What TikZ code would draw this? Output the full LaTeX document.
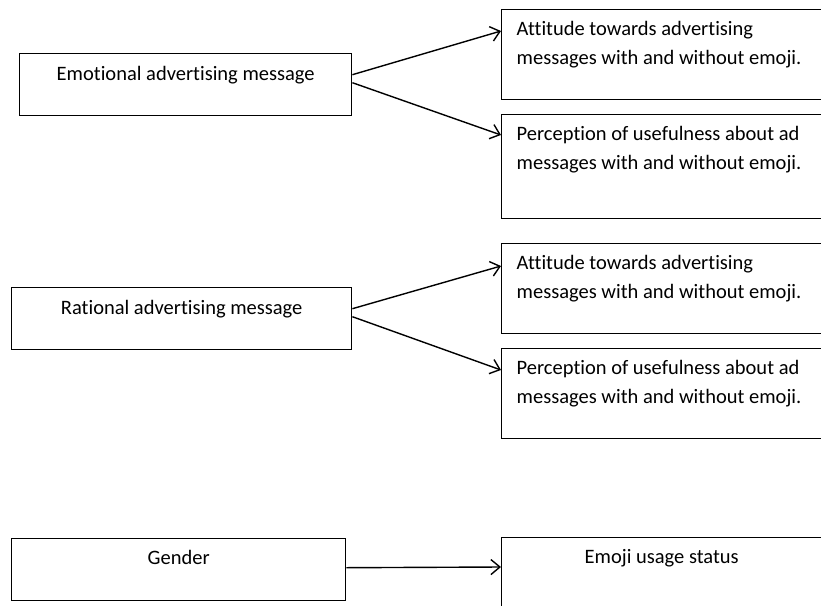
\documentclass[tikz,border=0pt]{standalone}
\usepackage{fontspec}
\setmainfont{Carlito}[Ligatures={NoCommon,NoContextual}]
\usetikzlibrary{arrows.meta,calc}

\begin{document}
\begin{tikzpicture}[x=1pt, y=-1pt, line width=1.4pt,
  every node/.style={font=\fontsize{20.5}{29}\selectfont},
  lbox/.style={draw, anchor=north west, inner xsep=0pt, inner ysep=0pt, minimum height=62pt, text height=27pt, text depth=35pt},
  rbox/.style={draw, anchor=north west, inner xsep=15pt, inner ysep=0pt, text width=290pt, align=flush left, text height=26pt},
  arr/.style={-{Straight Barb[length=9pt,width=15pt]}}]

\useasboundingbox (0,0) rectangle (821,605);
\clip (0,0) rectangle (821,605);

% emotional message
\node[lbox, minimum width=332pt] (EMO) at (19,53) {Emotional advertising message};
\node[rbox, text depth=64pt] (ATT1) at (501,9) {Attitude towards advertising\\messages with and without emoji.};
\node[rbox, text depth=78pt] (USE1) at (501,114) {Perception of usefulness about ad\\messages with and without emoji.};
\draw[arr] ($(EMO.east)+(0,-10)$) -- ($(ATT1.north west)+(0,22)$);
\draw[arr] ($(EMO.east)+(0,-2)$) -- ($(USE1.north west)+(0,21)$);

% rational message
\node[lbox, minimum width=340pt] (RAT) at (11,287) {Rational advertising message};
\node[rbox, text depth=64pt] (ATT2) at (501,243) {Attitude towards advertising\\messages with and without emoji.};
\node[rbox, text depth=64pt] (USE2) at (501,348) {Perception of usefulness about ad\\messages with and without emoji.};
\draw[arr] ($(RAT.east)+(0,-10)$) -- ($(ATT2.north west)+(0,23)$);
\draw[arr] ($(RAT.east)+(0,-2)$) -- ($(USE2.north west)+(0,22)$);

% gender
\node[lbox, minimum width=334pt, text height=26pt, text depth=36pt] (GEN) at (11,538) {Gender};
\node[lbox, minimum width=320pt, text height=26pt, text depth=57pt] (EUS) at (501,537) {Emoji usage status};
\draw[arr] ($(GEN.east)+(0,-2)$) -- ($(EUS.north west)+(0,30)$);

\end{tikzpicture}
\end{document}
